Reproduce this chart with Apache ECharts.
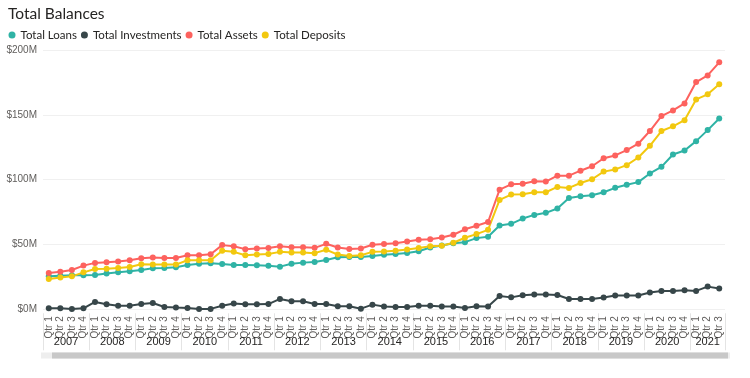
<!DOCTYPE html>
<html>
<head>
<meta charset="utf-8">
<script src="https://cdn.jsdelivr.net/npm/echarts@6/dist/echarts.min.js"></script>
<style>
html,body{margin:0;padding:0;background:#fff;}
#chart{width:750px;height:378px;}
</style>
</head>
<body>
<div id="chart"></div>
<script>
// ---- data ----
var years = [2007,2008,2009,2010,2011,2012,2013,2014,2015,2016,2017,2018,2019,2020,2021];
var quarterNames = ['Qtr 1','Qtr 2','Qtr 3','Qtr 4'];
var quartersInLastYear = 3;
var yTicks = [0, 50, 100, 150, 200];

// values in $M, 2007 Qtr 1 .. 2021 Qtr 3
var totalLoans = [25.4,25.9,26.2,26.2, 26.4,27.7,28.5,29.3, 30.3,31.6,31.9,32.4, 34.2,35.2,35.5,35.0,
  34.2,34.2,33.9,33.6, 32.9,35.2,36.0,36.5, 38.1,40.2,40.4,40.4, 41.2,42.0,42.7,43.5, 44.8,47.7,49.2,51.0,
  51.8,54.9,55.9,64.6, 65.9,70.0,72.8,74.4, 77.7,85.9,87.2,87.9, 90.3,93.7,96.0,98.1, 104.8,109.9,119.4,122.5,
  129.7,138.2,147.2];
var totalInvestments = [0.8,0.8,0.3,0.8, 5.7,3.9,2.8,2.8, 4.1,4.9,1.8,1.3, 1.0,0.3,0.3,2.8,
  4.4,3.9,3.9,4.0, 8.0,6.2,6.2,4.1, 4.1,2.3,2.3,0.5, 3.6,2.1,1.8,1.8, 2.8,2.8,2.1,2.1,
  1.0,2.3,2.1,10.3, 9.2,10.8,11.5,11.5, 11.0,7.9,7.9,7.9, 9.1,10.6,10.6,10.6, 12.9,14.2,14.2,14.7,
  14.2,17.5,16.0];
var totalAssets = [28.0,29.0,30.3,33.7, 35.8,36.3,36.8,37.8, 39.4,39.9,39.6,39.6, 41.7,41.7,42.5,49.5,
  48.7,46.4,46.9,47.2, 48.7,47.9,47.9,47.4, 50.5,47.7,46.6,46.9, 49.8,50.3,51.0,52.3, 53.6,54.1,55.4,57.5,
  61.7,64.5,67.3,92.3, 96.4,96.9,98.7,98.5, 103.1,103.1,106.9,110.3, 116.5,118.7,122.8,127.7, 137.5,149.0,153.4,158.8,
  175.3,180.4,190.5];
var totalDeposits = [23.3,24.6,25.4,28.5, 31.1,31.3,31.9,32.6, 34.7,34.5,34.5,34.5, 37.8,37.8,37.8,45.1,
  44.3,41.7,42.2,42.7, 44.3,43.8,43.8,43.3, 45.9,42.2,41.2,41.7, 44.3,44.6,45.1,46.1, 47.2,48.7,49.0,51.3,
  55.2,58.0,61.3,84.4, 88.5,88.7,90.3,90.3, 94.4,93.6,97.4,100.3, 106.2,107.9,111.2,117.1, 126.1,137.5,141.1,145.9,
  161.9,165.8,173.5];

// ---- build categories ----
var quarterCats = [], yearOfCat = [], qIdx = [];
years.forEach(function(y, yi){
  var n = (yi === years.length - 1) ? quartersInLastYear : 4;
  for (var q = 0; q < n; q++) { quarterCats.push(y + ' ' + quarterNames[q]); yearOfCat.push(y); qIdx.push(q); }
});

var FONT = "Lato, 'Open Sans', sans-serif";
var QFONT = "'Liberation Sans', Arial, sans-serif";
var chart = echarts.init(document.getElementById('chart'), null, {renderer: 'canvas'});

function mkSeries(name, data, color){
  return {
    name: name, type: 'line', data: data, xAxisIndex: 0, yAxisIndex: 0,
    symbol: 'circle', symbolSize: 6, showSymbol: true,
    lineStyle: {width: 2, color: color}, itemStyle: {color: color},
    animation: false
  };
}

chart.setOption({
  animation: false,
  title: {
    text: 'Total Balances', left: 3, top: 1,
    textStyle: {fontFamily: FONT, fontSize: 15.5, fontWeight: 'normal', color: '#252423'}
  },
  legend: {
    left: 3.5, top: 24, icon: 'circle', itemWidth: 7, itemHeight: 7, itemGap: 4,
    textStyle: {fontFamily: FONT, fontSize: 11.5, color: '#252423'},
    data: ['Total Loans','Total Investments','Total Assets','Total Deposits']
  },
  grid: {left: 43, right: 25, top: 50, bottom: 68.7, containLabel: false},
  xAxis: [
    {
      type: 'category', data: quarterCats, position: 'bottom', boundaryGap: true,
      axisLine: {show: false}, axisTick: {show: false},
      axisLabel: {
        interval: 0, rotate: 90, margin: 7,
        fontFamily: QFONT, fontSize: 10, color: '#605E5C',
        formatter: function(v, i){ return quarterNames[qIdx[i]]; }
      }
    },
    {
      type: 'category', data: quarterCats, position: 'bottom', offset: 41, boundaryGap: true,
      axisLine: {show: false},
      axisTick: {show: true, inside: true, length: 37,
        interval: function(i){ return qIdx[i] === 0; },
        lineStyle: {color: '#e4e4e4', width: 1}},
      axisLabel: {
        interval: 0, inside: true, margin: 8, verticalAlign: 'middle',
        fontFamily: QFONT, fontSize: 11, color: '#252423',
        formatter: function(v, i){
          if (qIdx[i] !== 1) return '';
          var y = yearOfCat[i];
          return (y === years[years.length-1] && quartersInLastYear === 3) ? '{c|' + y + '}' : '{s|' + y + '}';
        },
        rich: {
          s: {fontFamily: QFONT, fontSize: 11, color: '#252423', padding: [0,0,0,11.5]},
          c: {fontFamily: QFONT, fontSize: 11, color: '#252423'}
        }
      }
    }
  ],
  yAxis: {
    type: 'value', min: yTicks[0], max: yTicks[yTicks.length-1], interval: 50,
    axisLine: {show: false}, axisTick: {show: false},
    splitLine: {lineStyle: {color: '#f0f0f0', width: 1}},
    axisLabel: {fontFamily: QFONT, fontSize: 10, color: '#605E5C', margin: 6,
      formatter: function(v){ return '$' + v + 'M'; }}
  },
  series: [
    mkSeries('Total Loans', totalLoans, '#2fb3a5'),
    mkSeries('Total Investments', totalInvestments, '#374649'),
    mkSeries('Total Assets', totalAssets, '#fd625e'),
    mkSeries('Total Deposits', totalDeposits, '#f2c80f')
  ],
  graphic: [
    {type: 'rect', left: 41, top: 352.5, shape: {width: 689, height: 6}, style: {fill: '#eeeeee'}, silent: true},
    {type: 'rect', left: 52, top: 352.5, shape: {width: 676, height: 6}, style: {fill: '#c8c8c8'}, silent: true}
  ]
});
</script>
</body>
</html>
